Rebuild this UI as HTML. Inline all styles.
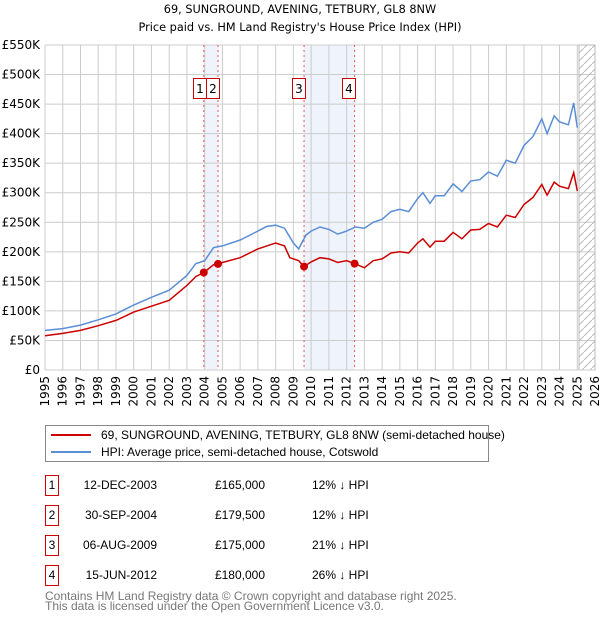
<!DOCTYPE html>
<html><head><meta charset="utf-8"><style>
body{margin:0;background:#fff;font-family:"Liberation Sans",sans-serif;}
#wrap{position:relative;width:600px;height:620px;overflow:hidden}
.t{position:absolute;font-size:12px;color:#000;white-space:nowrap;font-family:"Liberation Sans",sans-serif;line-height:14px}
.tt{position:absolute;font-size:11.3px;color:#000;white-space:nowrap;font-family:"DejaVu Sans",sans-serif}
.box{position:absolute;border:1px solid #c00;width:12px;height:19px;font-size:12px;text-align:center;line-height:19px;font-family:"Liberation Sans",sans-serif}
</style></head><body><div id="wrap">
<div class="tt" style="left:0;width:600px;text-align:center;top:3px">69, SUNGROUND, AVENING, TETBURY, GL8 8NW</div>
<div class="tt" style="left:0;width:600px;text-align:center;top:21px">Price paid vs. HM Land Registry's House Price Index (HPI)</div>
<svg id="chart" width="600" height="420" style="position:absolute;left:0;top:0"></svg>
<div style="position:absolute;left:45px;top:425px;width:442px;height:35px;border:1px solid #888">
<div style="position:absolute;left:5px;top:8px;width:40px;height:2px;background:#c00"></div>
<div class="t" style="left:55px;top:2px">69, SUNGROUND, AVENING, TETBURY, GL8 8NW (semi-detached house)</div>
<div style="position:absolute;left:5px;top:25px;width:40px;height:2px;background:#5b8ed6"></div>
<div class="t" style="left:55px;top:19px">HPI: Average price, semi-detached house, Cotswold</div>
</div>
<div id="tbl"></div>
<div class="t" style="left:45px;top:589px;color:#777">Contains HM Land Registry data © Crown copyright and database right 2025.</div>
<div class="t" style="left:45px;top:599px;color:#777">This data is licensed under the Open Government Licence v3.0.</div>
</div>
<script>
const hpiX=[1995,1996,1997,1998,1999,2000,2001,2002,2003,2003.5,2004,2004.5,2005,2006,2007,2007.5,2008,2008.5,2009,2009.3,2009.7,2010,2010.5,2011,2011.5,2012,2012.5,2013,2013.5,2014,2014.5,2015,2015.5,2016,2016.3,2016.7,2017,2017.5,2018,2018.5,2019,2019.5,2020,2020.5,2021,2021.5,2022,2022.5,2023,2023.3,2023.7,2024,2024.5,2024.8,2025];
const hpiV=[67,70,76,85,95,110,123,135,160,180,185,207,210,220,235,243,245,240,215,205,228,235,242,238,230,235,242,240,250,255,268,272,268,290,300,282,295,295,315,302,320,322,335,328,355,350,380,395,425,400,430,420,415,452,410];
const priceX=[1995,1996,1997,1998,1999,2000,2001,2002,2003,2003.5,2003.95,2004.5,2005,2006,2007,2007.5,2008,2008.5,2008.8,2009.3,2009.6,2010,2010.5,2011,2011.5,2012,2012.45,2013,2013.5,2014,2014.5,2015,2015.5,2016,2016.3,2016.7,2017,2017.5,2018,2018.5,2019,2019.5,2020,2020.5,2021,2021.5,2022,2022.5,2023,2023.3,2023.7,2024,2024.5,2024.8,2025];
const priceV=[58,62,67,75,84,98,108,118,143,158,165,178,182,190,205,210,215,210,190,185,175,183,190,188,182,185,180,173,185,188,198,200,198,215,222,208,218,218,233,222,237,238,248,242,262,258,280,292,314,296,318,311,307,334,303];
const saleDates=[2003.95,2004.75,2009.6,2012.45];
const salePrices=[165,179.5,175,180];
const saleLabels=["1","2","3","4"];
const saleDateText=["12-DEC-2003","30-SEP-2004","06-AUG-2009","15-JUN-2012"];
const salePriceText=["£165,000","£179,500","£175,000","£180,000"];
const saleDiffText=["12% ↓ HPI","12% ↓ HPI","21% ↓ HPI","26% ↓ HPI"];
const yTicks=[0,50,100,150,200,250,300,350,400,450,500,550];
const xTicks=[];for(let y=1995;y<=2026;y++)xTicks.push(y);

const L=45,R=595,T=45,B=370;
const X=v=>L+(v-1995)*(R-L)/31;
const Y=v=>B-v*(B-T)/550;
const svg=document.getElementById('chart');const NS='http://www.w3.org/2000/svg';
function mk(tag,at,parent){const e=document.createElementNS(NS,tag);for(const k in at)e.setAttribute(k,at[k]);(parent||svg).appendChild(e);return e;}
for(const [a,b] of [[0,1],[2,3]]){
 const r=mk('rect',{x:X(saleDates[a]),y:T,width:X(saleDates[b])-X(saleDates[a]),height:B-T,fill:'#eef3fc'});
 
 
}
for(const t of yTicks){const l=mk('line',{x1:L,x2:R,y1:Y(t),y2:Y(t),stroke:'#ccc'});
 
 
 const tx=mk('text',{x:L-5,y:Y(t)+4,'text-anchor':'end','font-size':12,'font-family':'DejaVu Sans,sans-serif'});tx.textContent='£'+(t?t+'K':'0');
 
 
}
for(const t of xTicks){const l=mk('line',{x1:X(t),x2:X(t),y1:T,y2:B,stroke:'#ccc'});
 
 
 const tx=mk('text',{x:0,y:0,'text-anchor':'end','font-size':12,'font-family':'DejaVu Sans,sans-serif',transform:`translate(${X(t)+4},${B+6}) rotate(-90)`});tx.textContent=t;
 
 
}
const defs=mk('defs',{});const p=mk('pattern',{id:'h',width:8,height:8,patternUnits:'userSpaceOnUse'},defs);
mk('path',{d:'M0,8 L8,0',stroke:'#bbb','stroke-width':1},p);
const hx=X(2025.1);const hr=mk('rect',{x:hx,y:T,width:R-hx,height:B-T,fill:'url(#h)',stroke:'#bbb'});


saleDates.forEach((d,i)=>{const l=mk('line',{x1:X(d),x2:X(d),y1:T,y2:B,stroke:'#e55','stroke-dasharray':'2,3'});
 
 
});
function path(xs,vs){return xs.map((x,i)=>(i?'L':'M')+X(x).toFixed(1)+','+Y(vs[i]).toFixed(1)).join('');}
const hp=mk('path',{d:path(hpiX,hpiV),fill:'none',stroke:'#5b8ed6','stroke-width':1.5});


const pp=mk('path',{d:path(priceX,priceV),fill:'none',stroke:'#c00','stroke-width':1.5});


saleDates.forEach((d,i)=>{const c=mk('circle',{cx:X(d),cy:Y(salePrices[i]),r:4,fill:'#c00'});
 
 
});
mk('line',{x1:L,x2:R,y1:B,y2:B,stroke:'#ccc'});
const bxs=[193,206,292,342];
saleDates.forEach((d,i)=>{
 const g=mk('g',{});
 
 
 mk('rect',{x:bxs[i]+0.5,y:78.5,width:13,height:20,fill:'#fff',stroke:'#c00'},g);
 const t=mk('text',{x:bxs[i]+7,y:93,'text-anchor':'middle','font-size':12,'font-family':'DejaVu Sans,sans-serif'},g);t.textContent=saleLabels[i];
});
const tbl=document.getElementById('tbl');
saleLabels.forEach((s,i)=>{const y=475+i*30;
 const b=document.createElement('div');b.className='box';b.style.left='45px';b.style.top=y+'px';b.textContent=s;
 
 
 tbl.appendChild(b);
 [[saleDateText[i],157,'right'],[salePriceText[i],265,'right'],[saleDiffText[i],312,'left']].forEach(([txt,x,al])=>{
  const d=document.createElement('div');d.className='t';d.style.top=(y+3)+'px';
  if(al=='right'){d.style.right=(600-x)+'px';}else d.style.left=x+'px';
  d.textContent=txt;
  
  
  tbl.appendChild(d);});
});
</script></body></html>
